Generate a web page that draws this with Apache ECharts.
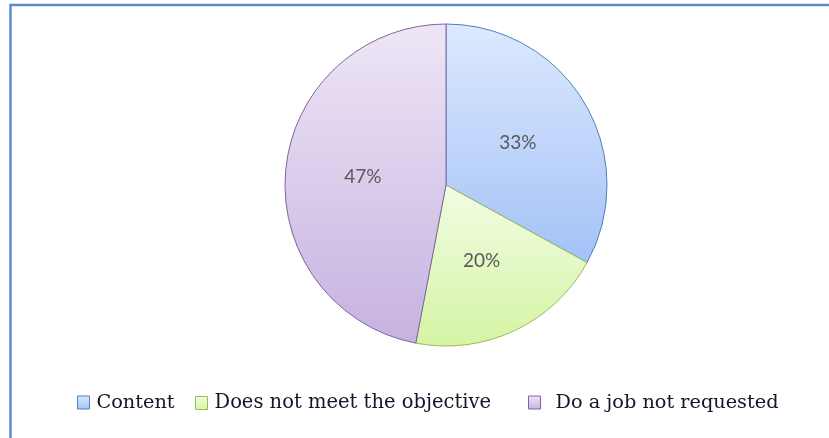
<!DOCTYPE html>
<html>
<head>
<meta charset="utf-8">
<script src="https://cdn.jsdelivr.net/npm/echarts@6/dist/echarts.min.js"></script>
<style>
html,body{margin:0;padding:0;background:#fff;}
#chart{width:829px;height:438px;}
</style>
</head>
<body>
<div id="chart"></div>
<script>
var categories = ['Content', 'Does not meet the objective', 'Do a job not requested'];
var values = [33, 20, 47];
var topColors = ['#dde9fd', '#f2fce4', '#eee6f6'];
var bottomColors = ['#a3c2f7', '#d5f4a4', '#c6b2e0'];
var borderColors = ['#4f81bd', '#9bbb59', '#8064a2'];

var chart = echarts.init(document.getElementById('chart'));

function grad(i) {
  return new echarts.graphic.LinearGradient(0, 0, 0, 1, [
    {offset: 0, color: topColors[i]},
    {offset: 1, color: bottomColors[i]}
  ]);
}

var legendLefts = [77, 195, 528];
var legendGaps = [7, 7, 15];
var legendSizes = [19.3, 19.5, 19.3];
var legends = categories.map(function (c, i) {
  return {
    data: [c],
    left: legendLefts[i],
    top: 393,
    orient: 'horizontal',
    itemWidth: 12,
    itemHeight: 13,
    icon: 'rect',
    itemGap: 0,
    padding: 0,
    textStyle: {
      fontFamily: 'DejaVu Serif',
      fontSize: legendSizes[i],
      color: '#14142a',
      padding: [14, 0, 0, legendGaps[i] - 5]
    },
    itemStyle: {borderColor: borderColors[i], borderWidth: 1}
  };
});

chart.setOption({
  animation: false,
  backgroundColor: '#ffffff',
  graphic: [{
    type: 'rect',
    shape: {x: 10.5, y: 5, width: 900, height: 500},
    style: {fill: 'none', stroke: '#5d8ad2', lineWidth: 2.5},
    silent: true,
    z: 100
  }],
  legend: legends,
  series: [{
    type: 'pie',
    center: [446, 185],
    radius: [0, 161],
    startAngle: 90,
    clockwise: true,
    data: categories.map(function (c, i) {
      return {
        name: c,
        value: values[i],
        itemStyle: {color: grad(i), borderColor: borderColors[i], borderWidth: 1}
      };
    }),
    label: {
      show: true,
      position: 'inside',
      formatter: function (p) { return p.value + '%'; },
      fontFamily: 'Lato',
      fontSize: 19,
      color: '#595959'
    },
    labelLine: {show: false},
    emphasis: {disabled: true}
  }]
});
</script>
</body>
</html>
